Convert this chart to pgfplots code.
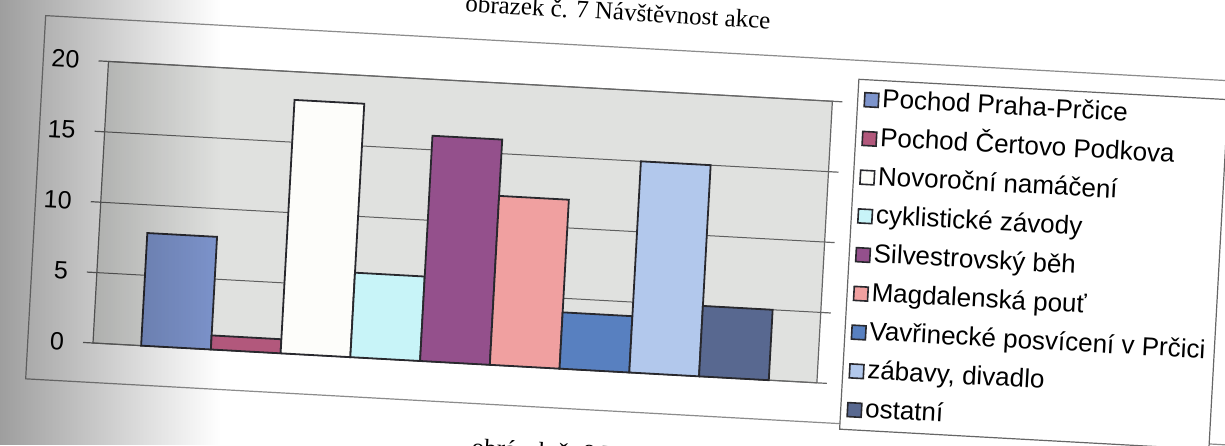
\documentclass[border=0pt]{standalone}
\usepackage{fontspec}
\setmainfont{Liberation Sans}
\newfontfamily\capfont{Liberation Serif}
\usepackage{pgfplots}
\pgfplotsset{compat=1.18}
\usetikzlibrary{fadings}

\definecolor{plotbg}{RGB}{224,225,223}
\definecolor{gridc}{RGB}{95,95,95}
\definecolor{barline}{RGB}{40,40,45}
\definecolor{cA}{RGB}{125,148,204}
\definecolor{cB}{RGB}{178,88,124}
\definecolor{cC}{RGB}{253,253,250}
\definecolor{cD}{RGB}{200,244,248}
\definecolor{cE}{RGB}{148,80,140}
\definecolor{cF}{RGB}{240,160,160}
\definecolor{cG}{RGB}{88,128,192}
\definecolor{cH}{RGB}{178,200,236}
\definecolor{cI}{RGB}{88,104,144}

\begin{document}
\begin{tikzpicture}
\path[use as bounding box] (0,0) rectangle (612.5pt,222.5pt);
\fill[white] (0,0) rectangle (612.5pt,222.5pt);
% the scanned page is slightly skewed
\begin{scope}[transform canvas={rotate around={-3.15:(46.5pt,51pt)}}]
\begin{axis}[
    at={(46.5pt,51pt)}, anchor=south west,
    scale only axis,
    width=362.5pt,
    height=141pt,
    ybar, bar width=1,
    xmin=-0.19, xmax=10.19,
    ymin=0, ymax=20,
    xtick=\empty,
    ytick={0,5,10,15,20},
    ymajorgrids,
    grid style={draw=gridc, line width=0.5pt},
    axis background/.style={fill=plotbg},
    axis line style={draw=black!60, line width=0.6pt},
    tick align=outside,
    major tick length=5pt,
    ytick style={draw=black!60, line width=0.6pt},
    /pgf/number format/assume math mode=true,
    yticklabel style={font=\fontsize{12.5}{14}\selectfont, xshift=-6pt},
    clip=false,
    legend cell align=left,
    legend image code/.code={\draw[#1, line width=0.8pt] (0pt,-3.5pt) rectangle (7pt,3.5pt);},
    legend style={at={(1.034,1.085)}, anchor=north west,
        draw=black!60, fill=white, line width=0.6pt,
        inner xsep=3pt, inner ysep=2pt, row sep=3.4pt,
        nodes={text height=10.5pt, text depth=3.5pt, inner ysep=1pt, inner xsep=1.5pt},
        font=\fontsize{13}{15}\selectfont},
]
% chart area frame
\draw[black!45, line width=0.6pt] (axis description cs:-0.09,-0.14) rectangle (axis description cs:1.8,1.15);

\addplot[fill=cA, draw=barline, line width=0.9pt, bar shift=0pt] coordinates {(1,8)};
\addlegendentry{Pochod Praha-Prčice}
\addplot[fill=cB, draw=barline, line width=0.9pt, bar shift=0pt] coordinates {(2,1)};
\addlegendentry{Pochod Čertovo Podkova}
\addplot[fill=cC, draw=barline, line width=0.9pt, bar shift=0pt] coordinates {(3,18)};
\addlegendentry{Novoroční namáčení}
\addplot[fill=cD, draw=barline, line width=0.9pt, bar shift=0pt] coordinates {(4,6)};
\addlegendentry{cyklistické závody}
\addplot[fill=cE, draw=barline, line width=0.9pt, bar shift=0pt] coordinates {(5,16)};
\addlegendentry{Silvestrovský běh}
\addplot[fill=cF, draw=barline, line width=0.9pt, bar shift=0pt] coordinates {(6,12)};
\addlegendentry{Magdalenská pouť}
\addplot[fill=cG, draw=barline, line width=0.9pt, bar shift=0pt] coordinates {(7,4)};
\addlegendentry{Vavřinecké posvícení v Prčici}
\addplot[fill=cH, draw=barline, line width=0.9pt, bar shift=0pt] coordinates {(8,15)};
\addlegendentry{zábavy, divadlo}
\addplot[fill=cI, draw=barline, line width=0.9pt, bar shift=0pt] coordinates {(9,5)};
\addlegendentry{ostatní}

\node[anchor=base, font=\capfont\fontsize{12.5}{14}\selectfont] at (axis description cs:0.698,1.245) {obrázek č. 7 Návštěvnost akce};
\node[anchor=base west, font=\capfont\fontsize{12.5}{14}\selectfont] at (axis description cs:0.52,-0.325) {obrázek č. 8 Návrh};
\end{axis}
\end{scope}
\fill[black, opacity=0.38, path fading=east] (0,0) rectangle (110pt,222.5pt);
\end{tikzpicture}
\end{document}
